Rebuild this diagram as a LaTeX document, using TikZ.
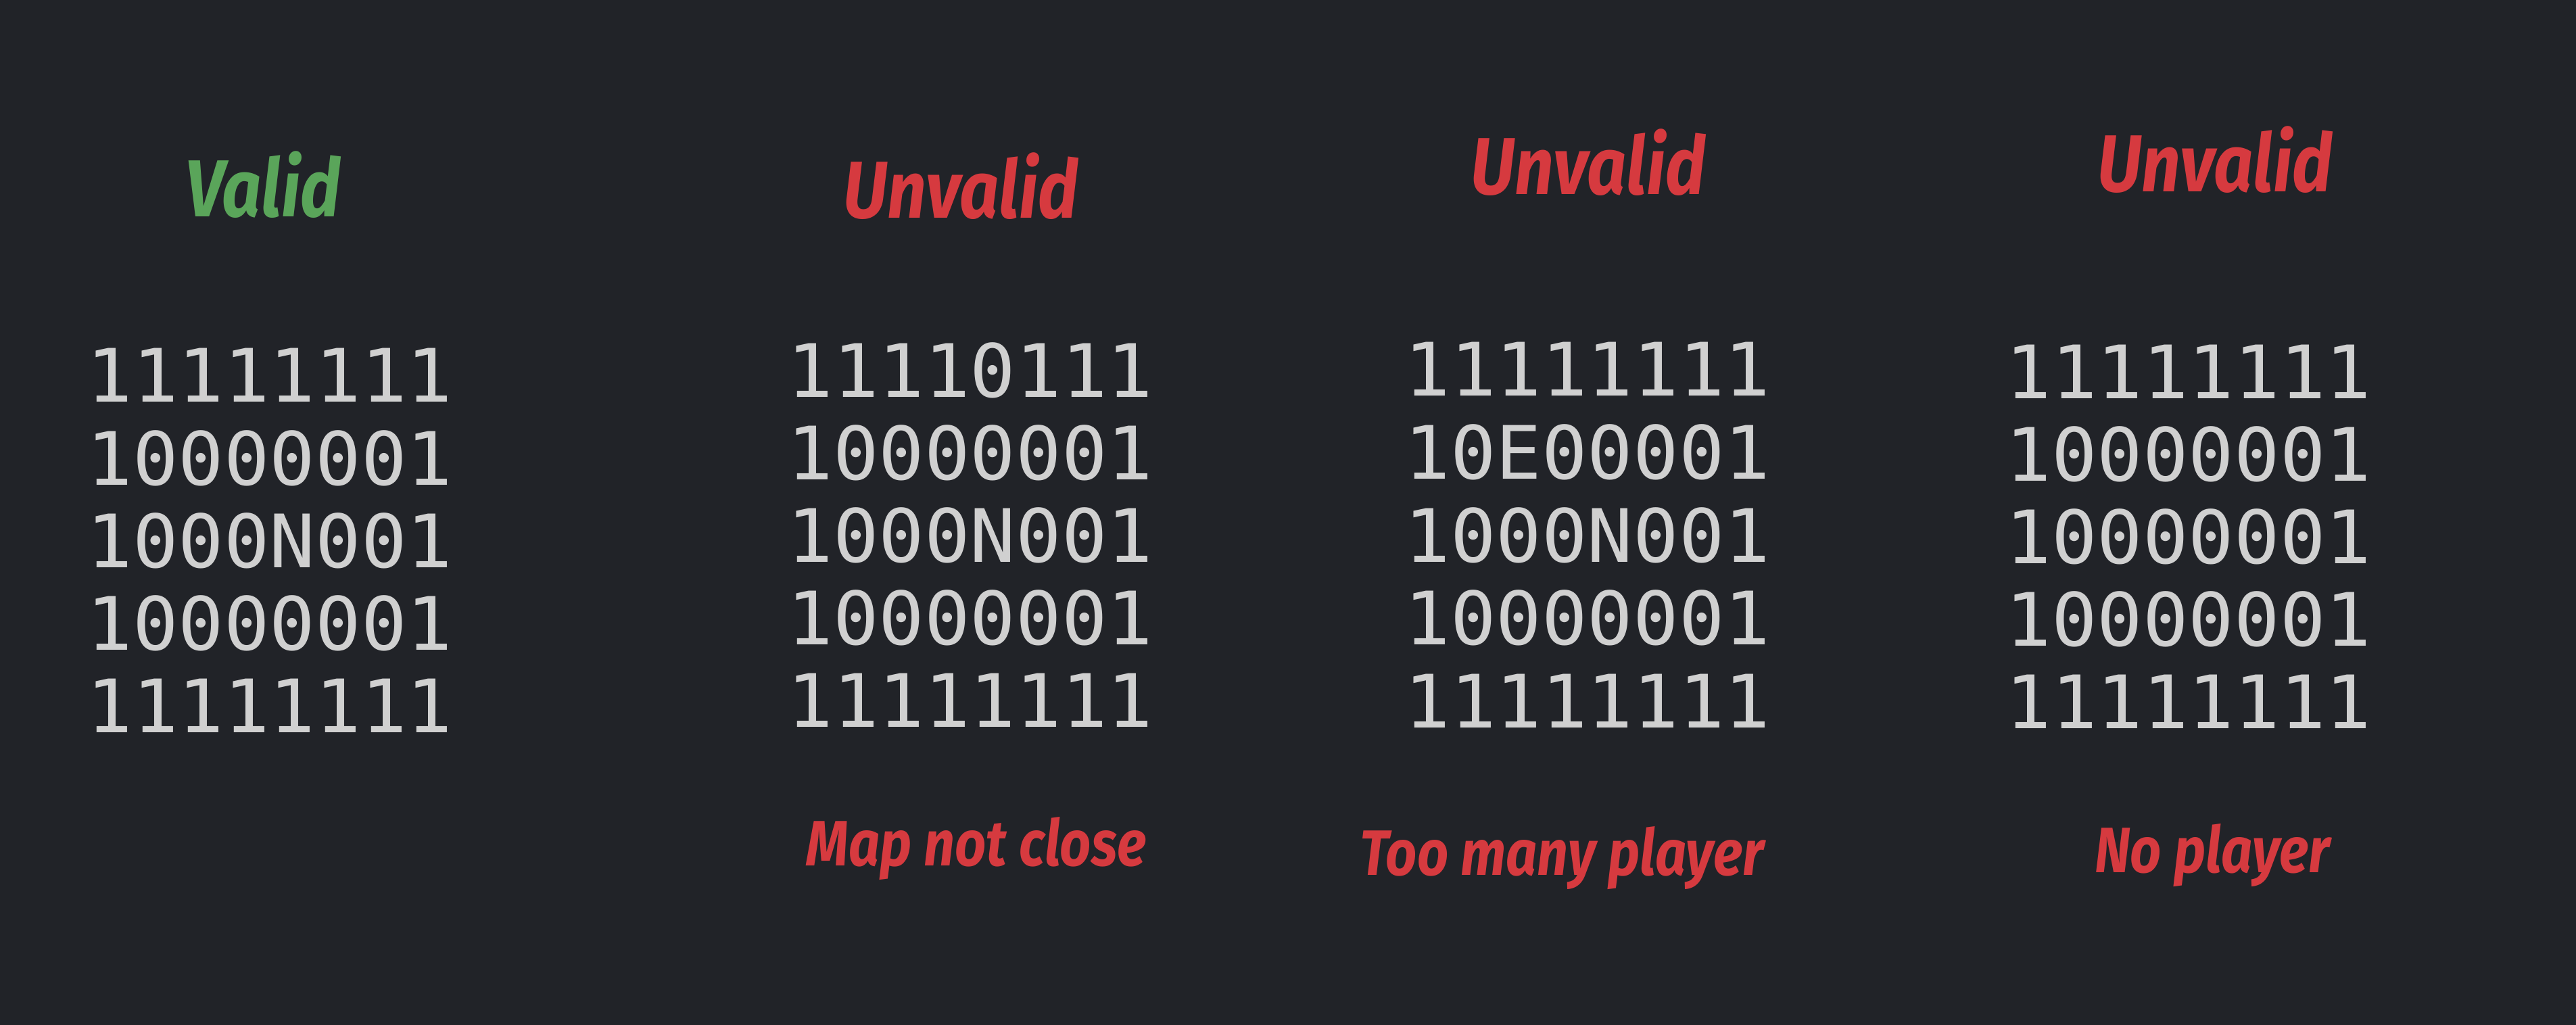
\documentclass[tikz,border=0pt]{standalone}
\usepackage{fontspec}
\usepackage{tikz}
\newfontfamily\gridfont{DejaVu Sans Mono}[FakeStretch=1.03]
\newfontfamily\handfont{Fira Sans}[FakeStretch=0.85]
\definecolor{bgdark}{HTML}{212328}
\definecolor{cellgray}{HTML}{D0D0D0}
\definecolor{okgreen}{HTML}{5AA55A}
\definecolor{badred}{HTML}{D63A3F}
\tikzset{
  maprow/.style = {anchor=base west, inner sep=0pt, text=cellgray,
    font=\gridfont\fontsize{31}{34}\selectfont},
  verdict/.style = {anchor=base, inner sep=0pt,
    font=\handfont\bfseries\itshape\fontsize{34}{36}\selectfont},
  reason/.style = {anchor=base, inner sep=0pt, text=badred,
    font=\handfont\bfseries\itshape\fontsize{27}{29}\selectfont}
}

\begin{document}
\begin{tikzpicture}
\fill[bgdark] (0,0) rectangle (38.1,-15.16);
\useasboundingbox (0,0) rectangle (38.1,-15.16);

% headings
\node[verdict, text=okgreen] (valid) at (3.89,-3.21) {Valid};
\node[verdict, text=badred] (bad1) at (14.21,-3.23) {Unvalid};
\node[verdict, text=badred] (bad2) at (23.49,-2.88) {Unvalid};
\node[verdict, text=badred] (bad3) at (32.76,-2.84) {Unvalid};

% the four maps
\foreach \row [count=\i] in {11111111,10000001,1000N001,10000001,11111111}
  \node[maprow] (mapA\i) at (1.28,-5.95-1.222*\i+1.222) {\row};
\foreach \row [count=\i] in {11110111,10000001,1000N001,10000001,11111111}
  \node[maprow] (mapB\i) at (11.64,-5.87-1.222*\i+1.222) {\row};
\foreach \row [count=\i] in {11111111,10E00001,1000N001,10000001,11111111}
  \node[maprow] (mapC\i) at (20.77,-5.86-1.225*\i+1.225) {\row};
\foreach \row [count=\i] in {11111111,10000001,10000001,10000001,11111111}
  \node[maprow] (mapD\i) at (29.66,-5.90-1.218*\i+1.218) {\row};

% reasons
\node[reason] (why1) at (14.44,-12.80) {Map not close};
\node[reason] (why2) at (23.10,-12.94) {Too many player};
\node[reason] (why3) at (32.72,-12.90) {No player};
\end{tikzpicture}
\end{document}
